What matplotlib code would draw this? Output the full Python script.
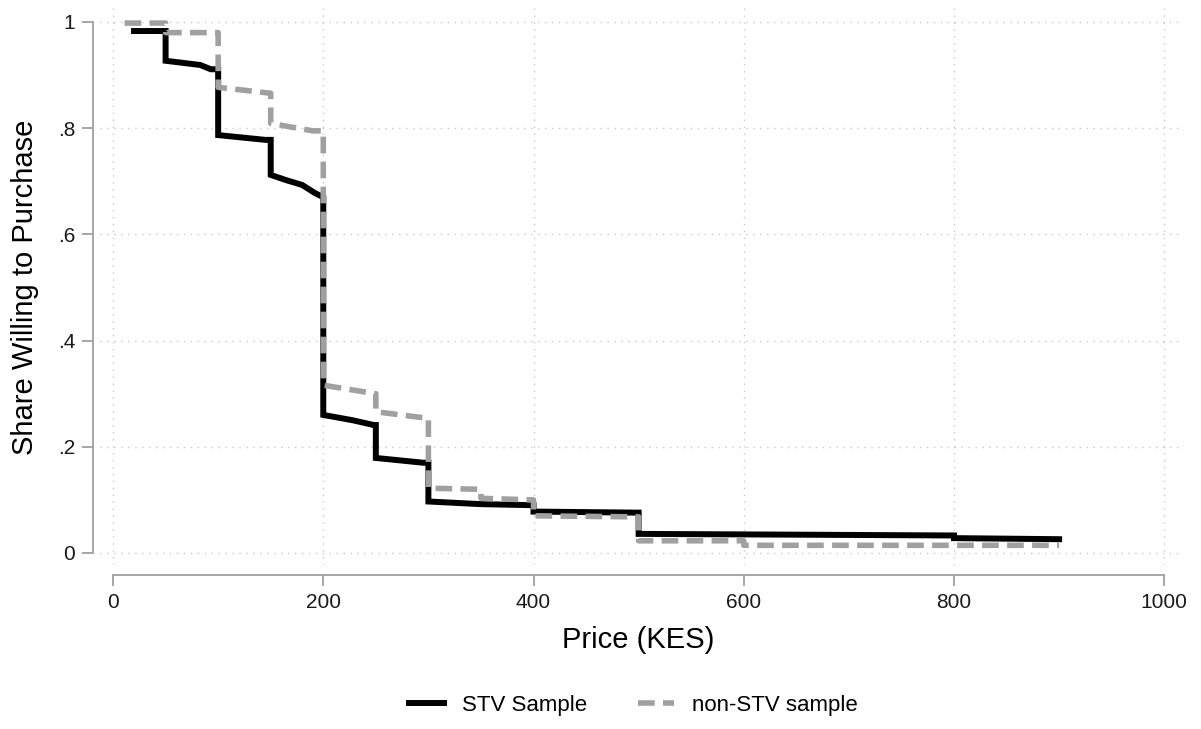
import numpy as np
import matplotlib.pyplot as plt

plt.rcParams['font.family'] = ['Liberation Sans', 'DejaVu Sans']

# STV sample demand curve (price in KES, share willing to purchase)
stv_price = [20, 50, 50, 83, 93, 100, 100, 145, 150, 150, 165, 180, 192, 200,
             200, 228, 248, 250, 250, 295, 300, 300, 350, 400, 400, 500,
             500, 700, 800, 800, 900]
stv_share = [.983, .983, .927, .919, .911, .911, .787, .778, .778, .712, .702, .693, .678, .670,
             .260, .250, .241, .241, .179, .170, .170, .097, .092, .090, .078, .076,
             .036, .034, .033, .028, .026]

# non-STV sample demand curve
non_price = [11, 50, 50, 100, 100, 149, 150, 150, 190, 200,
             200, 250, 250, 298, 300, 300, 350, 350, 400, 400, 500,
             500, 600, 600, 900]
non_share = [.998, .998, .980, .980, .877, .866, .866, .809, .795, .795,
             .316, .300, .266, .254, .254, .122, .120, .103, .100, .070, .068,
             .023, .023, .0145, .0145]

xticks = [0, 200, 400, 600, 800, 1000]
yticks = [0, .2, .4, .6, .8, 1]
yticklabels = ['0', '.2', '.4', '.6', '.8', '1']

fig = plt.figure(figsize=(12.01, 7.29), dpi=100)
ax = fig.add_axes([100 / 1201, 1 - 565 / 729, 1080 / 1201, 560 / 729])

ax.plot(stv_price, stv_share, color='black', lw=4.3, solid_joinstyle='miter',
        label='STV Sample', zorder=3)
ax.plot(non_price, non_share, color='#a0a0a0', lw=4.0, dashes=(3, 1.5),
        label='non-STV sample', zorder=4)

ax.set_xlim(-12.4, 1015)
ax.set_ylim(-0.0226, 1.032)
ax.set_xticks(xticks)
ax.set_yticks(yticks)
ax.set_yticklabels(yticklabels)

for v in xticks:
    ax.axvline(v, color='#c8c8c8', lw=1, linestyle=(0, (1, 4)), zorder=1)
for v in yticks:
    ax.axhline(v, color='#c8c8c8', lw=1, linestyle=(0, (1, 4)), zorder=1)

for s in ['top', 'right']:
    ax.spines[s].set_visible(False)
ax.spines['left'].set_position(('outward', 5))
ax.spines['left'].set_bounds(0, 1)
ax.spines['bottom'].set_position(('outward', 7))
ax.spines['bottom'].set_bounds(0, 1000)
for s in ['left', 'bottom']:
    ax.spines[s].set_color('#a0a0a0')
    ax.spines[s].set_linewidth(1.3)

ax.tick_params(axis='both', length=8, width=1.3, color='#a0a0a0', labelsize=15,
               labelcolor='#1a1a1a', pad=5)

ax.set_xlabel('Price (KES)', fontsize=21)
ax.xaxis.label.set_va('center')
ax.xaxis.set_label_coords((638 - 100) / 1080, (565 - 640) / 560)
ax.set_ylabel('Share Willing to Purchase', fontsize=21)
ax.yaxis.label.set_va('center')
ax.yaxis.set_label_coords((25 - 100) / 1080, (565 - 287) / 560)

fig.legend(loc='center', bbox_to_anchor=(633 / 1201, 1 - 705 / 729), ncol=2, frameon=False,
           fontsize=16, handlelength=1.6, handletextpad=0.8, columnspacing=2.3)

fig.savefig('out.png', dpi=100)
